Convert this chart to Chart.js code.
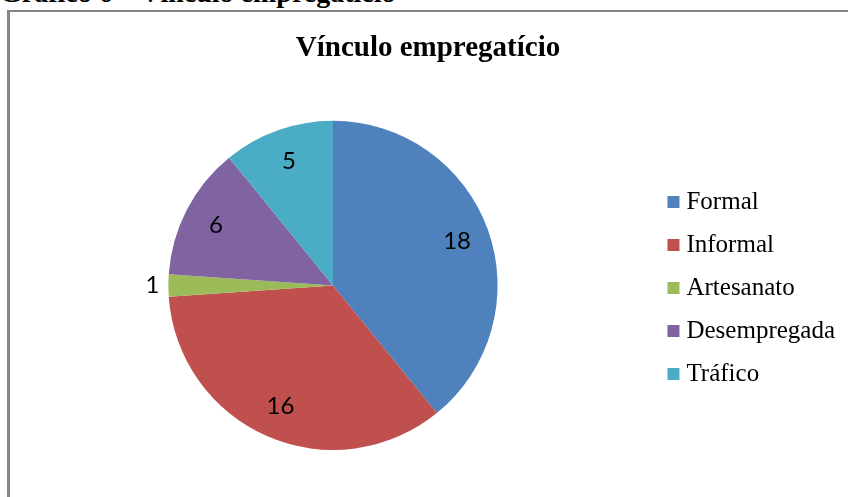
<!DOCTYPE html>
<html lang="pt-br">
<head>
    <meta charset="UTF-8">
    <title>Vínculo empregatício</title>
    <script src="https://cdn.jsdelivr.net/npm/chart.js"></script>
    <style>
        body { margin: 0; width: 848px; height: 497px; overflow: hidden; background: #fff; position: relative; }
        .legenda-topo {
            position: absolute; left: 0; top: -21px; white-space: nowrap;
            font: bold 28px "Liberation Serif", serif; line-height: 28px; color: #000;
        }
        .moldura {
            position: absolute; left: 7px; top: 10px; width: 860px; height: 500px;
            border-left: 3px solid #858585; border-top: 2px solid #858585;
        }
        .area { position: absolute; left: 10px; top: 12px; width: 838px; height: 485px; }
    </style>
</head>
<body>
    <div class="legenda-topo">Gráfico 6 – Vínculo empregatício</div>
    <div class="moldura"></div>
    <div class="area"><canvas id="grafico"></canvas></div>

    <script>
        // Dados
        const categorias = ['Formal', 'Informal', 'Artesanato', 'Desempregada', 'Tráfico'];
        const quantidades = [18, 16, 1, 6, 5];
        const cores = ['#4F81BD', '#C0504D', '#9BBB59', '#8064A2', '#4BACC6'];

        // Escreve o valor de cada fatia (fora da fatia quando ela é muito pequena)
        const rotulos = {
            id: 'rotulos',
            afterDatasetsDraw(chart) {
                const ctx = chart.ctx;
                const meta = chart.getDatasetMeta(0);
                const total = quantidades.reduce((a, b) => a + b, 0);
                ctx.save();
                ctx.font = '24px Lato, "Open Sans", sans-serif';
                ctx.fillStyle = '#000';
                ctx.textAlign = 'center';
                ctx.textBaseline = 'middle';
                meta.data.forEach((arc, i) => {
                    const p = arc.getProps(['x', 'y', 'startAngle', 'endAngle', 'outerRadius'], true);
                    const meio = (p.startAngle + p.endAngle) / 2;
                    const r = quantidades[i] / total < 0.05 ? p.outerRadius + 16 : p.outerRadius * 0.8;
                    ctx.fillText(String(quantidades[i]), p.x + Math.cos(meio) * r, p.y + Math.sin(meio) * r);
                });
                ctx.restore();
            }
        };

        new Chart(document.getElementById('grafico'), {
            type: 'pie',
            data: {
                labels: categorias,
                datasets: [{
                    data: quantidades,
                    backgroundColor: cores,
                    borderWidth: 0
                }]
            },
            options: {
                responsive: true,
                maintainAspectRatio: false,
                animation: false,
                layout: { padding: { left: 1, right: 3, top: 0, bottom: 47 } },
                plugins: {
                    title: {
                        display: true,
                        text: 'Vínculo empregatício',
                        color: '#000',
                        font: { family: '"Liberation Serif", serif', size: 29, weight: 'bold' },
                        padding: { top: 19, bottom: 55 }
                    },
                    legend: {
                        position: 'right',
                        // título vazio só para descer os itens até o meio da pizza
                        title: { display: true, text: '', font: { size: 10 }, padding: { top: 52, bottom: 50 } },
                        labels: {
                            color: '#000',
                            usePointStyle: true,
                            pointStyle: 'rect',
                            boxWidth: 1,
                            boxHeight: 12,
                            padding: 18,
                            font: { family: '"Liberation Serif", serif', size: 25 }
                        }
                    },
                    tooltip: { enabled: false }
                }
            },
            plugins: [rotulos]
        });
    </script>
</body>
</html>
